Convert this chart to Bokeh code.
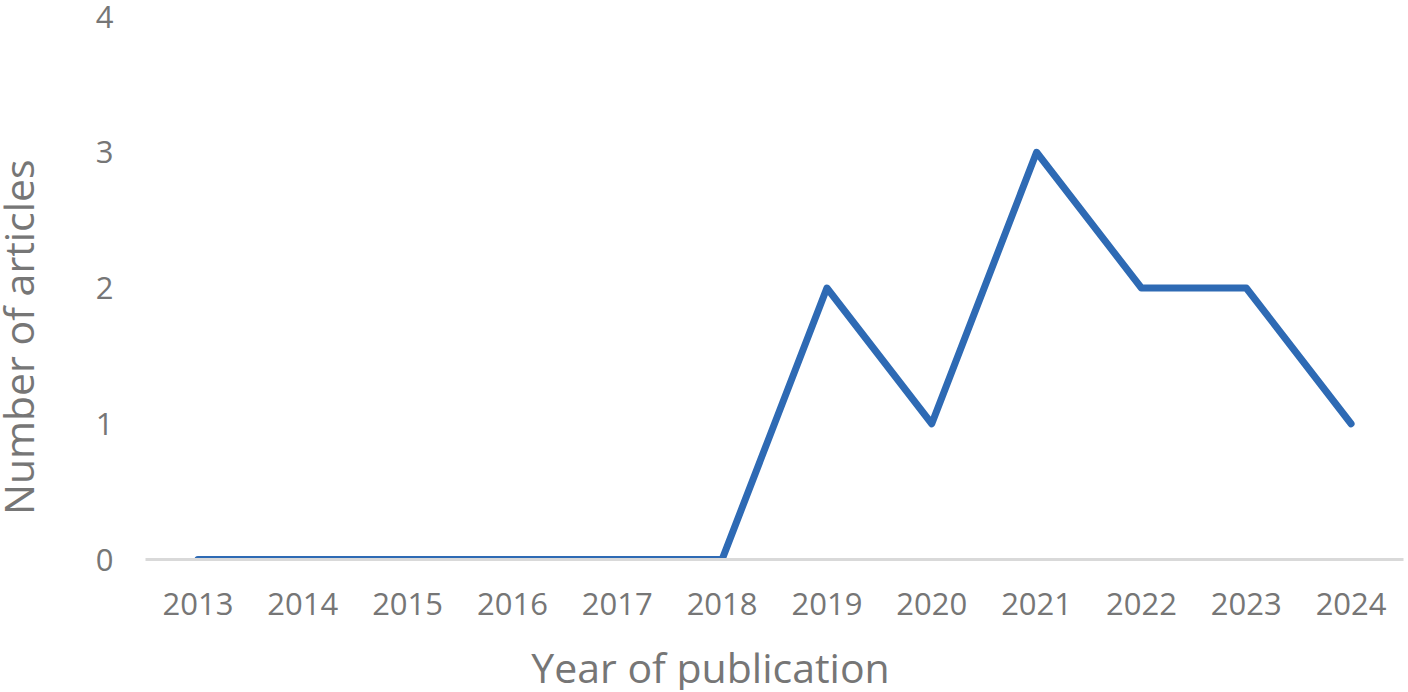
import math
from bokeh.plotting import figure
from bokeh.models import FactorRange, Range1d, FixedTicker, Label
from bokeh.layouts import row, column
from bokeh.embed import file_html
from bokeh.resources import INLINE

years = ["2013", "2014", "2015", "2016", "2017", "2018", "2019", "2020", "2021", "2022", "2023", "2024"]
articles = [0, 0, 0, 0, 0, 0, 2, 1, 3, 2, 2, 1]
y_ticks = [0, 1, 2, 3, 4]
x_title = "Year of publication"
y_title = "Number of articles"

GRAY = "#767676"
FONT = "Open Sans"

TOTAL_W, MAIN_H, SIDE_W, BOTTOM_H = 1406, 635, 60, 55


def blank(w, h):
    f = figure(width=w, height=h, output_backend="svg", toolbar_location=None,
               x_range=Range1d(0, w), y_range=Range1d(0, h),
               x_axis_location=None, y_axis_location=None,
               min_border=0)
    f.outline_line_color = None
    f.grid.grid_line_color = None
    f.background_fill_color = "white"
    f.border_fill_color = "white"
    return f


p = figure(width=TOTAL_W - SIDE_W, height=MAIN_H, output_backend="svg", toolbar_location=None,
           x_range=FactorRange(*years, range_padding=0), y_range=Range1d(0, 4),
           min_border_left=145 - SIDE_W, min_border_right=3, min_border_top=16,
           min_border_bottom=MAIN_H - 559)

p.line(years, articles, line_width=7, color="#2E6AB4", line_cap="round", line_join="round")

p.outline_line_color = None
p.xgrid.grid_line_color = None
p.ygrid.grid_line_color = None
p.background_fill_color = "white"
p.border_fill_color = "white"

xa = p.xaxis[0]
xa.axis_line_color = "#D9D9D9"
xa.axis_line_width = 3
xa.major_tick_line_color = None
xa.minor_tick_line_color = None
xa.major_label_text_font = FONT
xa.major_label_text_font_size = "31px"
xa.major_label_text_color = GRAY
xa.major_label_standoff = 27

ya = p.yaxis[0]
ya.ticker = FixedTicker(ticks=y_ticks)
ya.axis_line_color = None
ya.major_tick_line_color = None
ya.minor_tick_line_color = None
ya.major_label_text_font = FONT
ya.major_label_text_font_size = "31px"
ya.major_label_text_color = GRAY
ya.major_label_standoff = 26

# y-axis title in a narrow side panel
side = blank(SIDE_W, MAIN_H)
side.add_layout(Label(x=17, y=260, text=y_title, text_font=FONT, text_font_size="41px",
                      text_color=GRAY, text_align="center", text_baseline="middle",
                      angle=math.pi / 2))

# x-axis title in a strip below
bottom = blank(TOTAL_W, BOTTOM_H)
bottom.add_layout(Label(x=710, y=BOTTOM_H - 31, text=x_title, text_font=FONT, text_font_size="41px",
                        text_color=GRAY, text_align="center", text_baseline="middle"))

layout = column(row(side, p, spacing=0), bottom, spacing=0)

open("out.html", "w").write(file_html(layout, INLINE))
